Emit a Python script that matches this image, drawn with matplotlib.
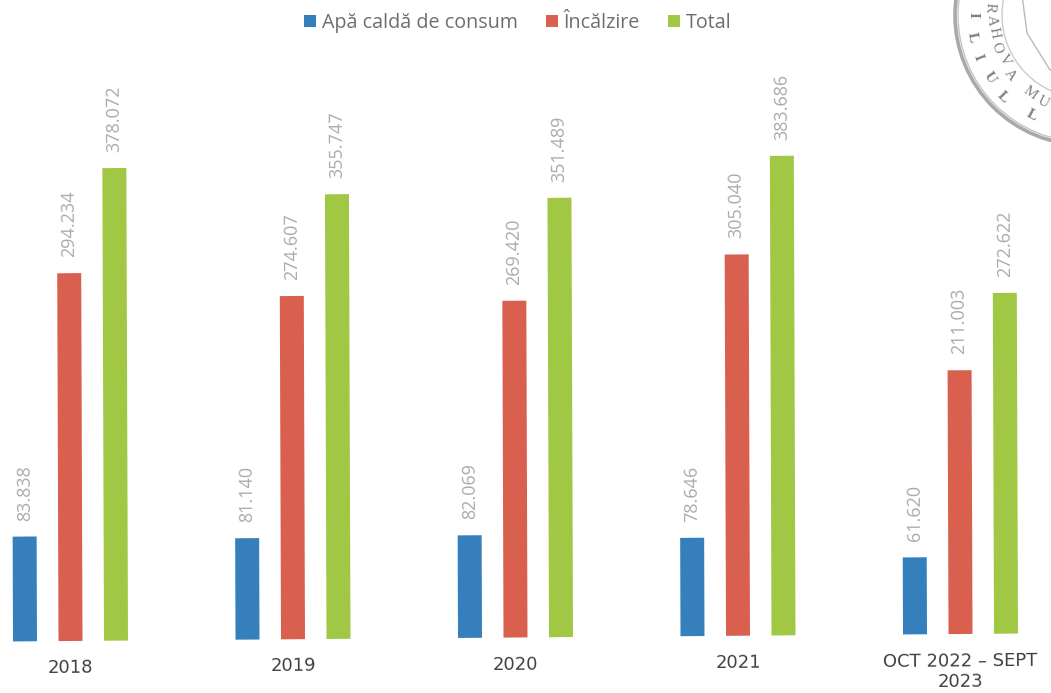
import math
import matplotlib
matplotlib.use("Agg")
import matplotlib.pyplot as plt
from matplotlib.patches import Circle
from matplotlib.transforms import Affine2D

categories = ["2018", "2019", "2020", "2021", "OCT 2022 – SEPT\n2023"]
series_names = ["Apă caldă de consum", "Încălzire", "Total"]
apa_calda = [83838, 81140, 82069, 78646, 61620]
incalzire = [294234, 274607, 269420, 305040, 211003]
total = [378072, 355747, 351489, 383686, 272622]
colors = ["#3580BC", "#D95F4E", "#A0C845"]

W, H = 1051, 693
fig = plt.figure(figsize=(W / 100, H / 100), dpi=100, facecolor="white")
ax = fig.add_axes([0, 0, 1, 1])
ax.axis("off")
step = 222.5
ax.set_xlim(-70.5 / step, (W - 70.5) / step)
scale = 1.25 / 1000
ax.set_ylim(-52 / scale, (H - 52) / scale)

# the page was scanned slightly tilted
tilt = Affine2D().translate(-70, -52).skew_deg(-0.2, 0.45).translate(70, 52)
tr = ax.transData + tilt

offset, width = 45.5 / step, 24 / step
for k, (name, vals, col) in enumerate(zip(series_names, [apa_calda, incalzire, total], colors)):
    xs = [i + (k - 1) * offset for i in range(len(vals))]
    ax.bar(xs, vals, width=width, color=col, label=name, transform=tr, clip_on=False)
    for x, v in zip(xs, vals):
        ax.annotate(f"{v:,}".replace(",", "."), xy=(x, v), xycoords=tr,
                    xytext=(0, 16), textcoords="offset pixels", rotation=90.3,
                    rotation_mode="anchor", ha="left", va="center",
                    color="#ABABAB", fontsize=13, family="Open Sans")

for i, c in enumerate(categories):
    ax.annotate(c, xy=(i, 0), xycoords=tr, xytext=(0, -18), textcoords="offset pixels",
                ha="center", va="top", rotation=0.45, rotation_mode="anchor",
                color="#404040", fontsize=13, family="DejaVu Sans", linespacing=1.2)

leg = ax.legend(ncol=3, loc="center left", bbox_to_anchor=(0.289, 0.967),
                frameon=False, labelcolor="#6E6E6E",
                handlelength=0.61, handleheight=0.61, handletextpad=0.3,
                columnspacing=1.42, borderpad=0, borderaxespad=0,
                prop={"family": "Open Sans", "size": 14.2})

# seal in the top-right corner
def P(x, y):
    return (x / W, 1 - y / H)

cx, cy = 1085, 15
seal = "#8C8C8C"
for r, lw, al in [(130, 2.6, 0.75), (127, 1.0, 0.5), (83, 1.0, 0.45)]:
    fig.add_artist(Circle((cx, H - cy), r, transform=None, fill=False,
                          edgecolor=seal, linewidth=lw, alpha=al))
shield = [(1022, -5), (1027, 33), (1050, 70), (1080, 80)]
fig.add_artist(plt.Line2D([p[0] / W for p in shield], [1 - p[1] / H for p in shield],
                          color=seal, lw=1.0, alpha=0.6, transform=fig.transFigure))
inner = [("R", 990, 7), ("A", 992, 20), ("H", 994, 33), ("O", 997, 48), ("V", 1005, 60),
         ("A", 1010, 75), ("M", 1030, 93), ("U", 1043, 102)]
outer = [("I", 973, 15), ("L", 972, 37), ("I", 978, 57), ("U", 990, 78), ("L", 1003, 97),
         ("L", 1032, 115)]
for group, fs, wt in [(inner, 11, "normal"), (outer, 11, "bold")]:
    for ch, x, y in group:
        rot = math.degrees(math.atan2(-(cy - y), cx - x)) - 90
        fig.text(*P(x, y), ch, rotation=rot, rotation_mode="anchor", ha="center", va="center",
                 color="#808080", fontsize=fs, family="Liberation Serif", fontweight=wt)

fig.savefig("out.png", dpi=100, facecolor="white")
